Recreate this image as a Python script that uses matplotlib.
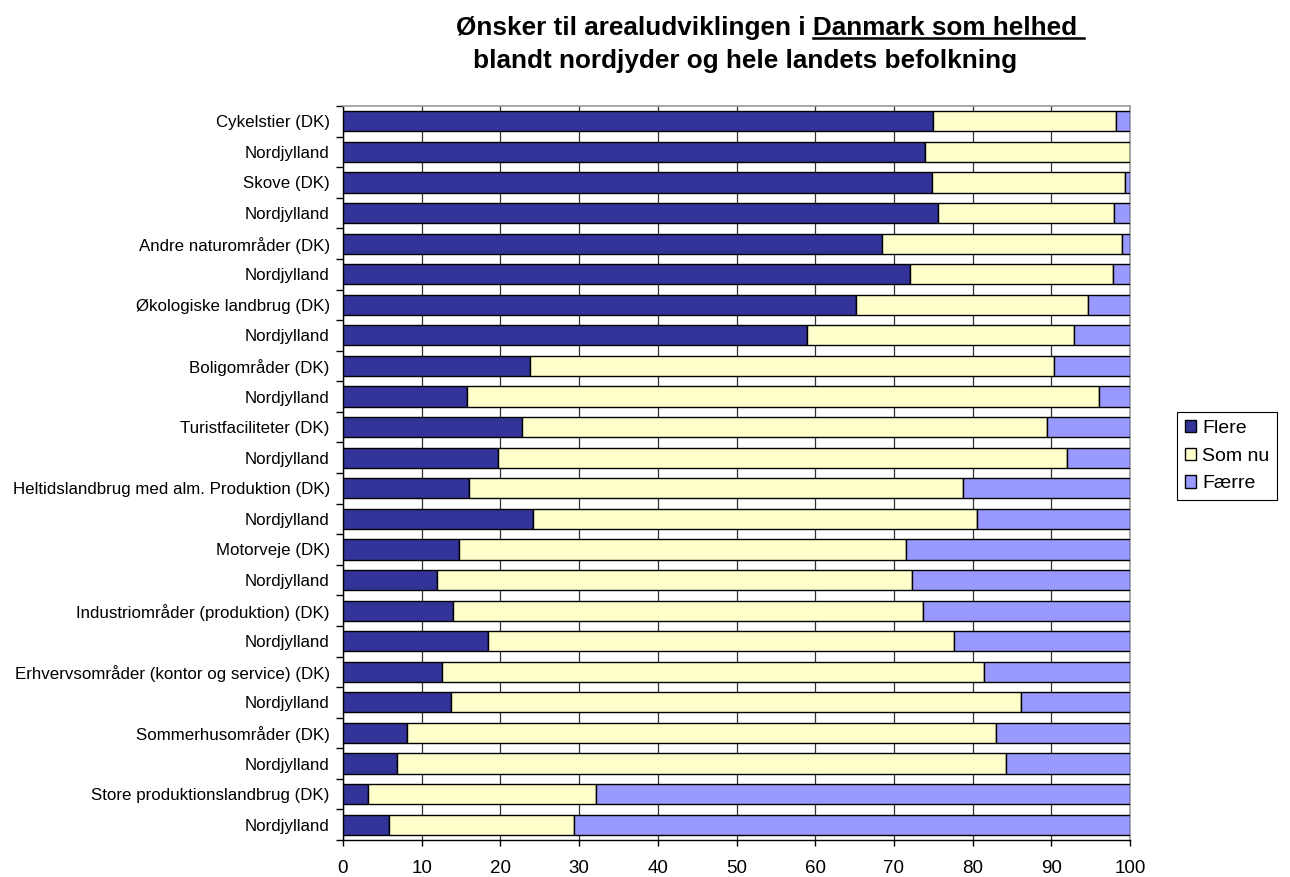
import numpy as np
import matplotlib
matplotlib.use("Agg")
import matplotlib.pyplot as plt
from matplotlib.lines import Line2D

plt.rcParams['font.family'] = ['Liberation Sans', 'DejaVu Sans']

# categories from top to bottom
labels = [
    "Cykelstier (DK)", "Nordjylland",
    "Skove (DK)", "Nordjylland",
    "Andre naturområder (DK)", "Nordjylland",
    "Økologiske landbrug (DK)", "Nordjylland",
    "Boligområder (DK)", "Nordjylland",
    "Turistfaciliteter (DK)", "Nordjylland",
    "Heltidslandbrug med alm. Produktion (DK)", "Nordjylland",
    "Motorveje (DK)", "Nordjylland",
    "Industriområder (produktion) (DK)", "Nordjylland",
    "Erhvervsområder (kontor og service) (DK)", "Nordjylland",
    "Sommerhusområder (DK)", "Nordjylland",
    "Store produktionslandbrug (DK)", "Nordjylland",
]

flere = [75.0, 73.9, 74.8, 75.6, 68.5, 72.0, 65.2, 59.0, 23.8, 15.8, 22.8, 19.7,
         16.0, 24.2, 14.7, 11.9, 14.0, 18.4, 12.6, 13.7, 8.1, 6.8, 3.2, 5.8]
som_nu = [23.2, 26.1, 24.6, 22.4, 30.5, 25.9, 29.4, 33.9, 66.5, 80.2, 66.7, 72.3,
          62.8, 56.3, 56.8, 60.4, 59.7, 59.2, 68.9, 72.5, 74.9, 77.4, 28.9, 23.6]
faerre = [1.8, 0.0, 0.6, 2.0, 1.0, 2.1, 5.4, 7.1, 9.7, 4.0, 10.5, 8.0,
          21.2, 19.5, 28.5, 27.7, 26.3, 22.4, 18.5, 13.8, 17.0, 15.8, 67.9, 70.6]

series = [("Flere", flere, "#333399"),
          ("Som nu", som_nu, "#FFFFCC"),
          ("Færre", faerre, "#9999FF")]

W, H = 1290, 877
fig = plt.figure(figsize=(W / 100, H / 100), dpi=100)
ax = fig.add_axes([343 / W, 1 - 840 / H, (1130 - 343) / W, (840 - 106) / H])

n = len(labels)
y = np.arange(n)
left = np.zeros(n)
for name, vals, col in series:
    vals = np.array(vals)
    ax.barh(y, vals, left=left, height=0.66, color=col, edgecolor="black",
            linewidth=1.0, label=name, zorder=3)
    left += vals

ax.set_xlim(0, 100)
ax.set_ylim(n - 0.5, -0.5)
ax.set_xticks(np.arange(0, 101, 10))
ax.set_yticks(y)
ax.set_yticklabels(labels)
ax.set_yticks(np.arange(-0.5, n, 1), minor=True)
ax.tick_params(axis="y", which="major", length=0, pad=9.5, labelsize=12.2)
ax.tick_params(axis="y", which="minor", length=5, width=1, color="black")
ax.tick_params(axis="x", length=4.5, width=1, labelsize=13.5, pad=10)
ax.xaxis.grid(True, color="#333333", linewidth=0.9, zorder=0)
ax.set_axisbelow(True)

for s in ["top", "right"]:
    ax.spines[s].set_color("#999999")
    ax.spines[s].set_linewidth(1.2)
for s in ["left", "bottom"]:
    ax.spines[s].set_color("black")
    ax.spines[s].set_linewidth(1.0)

leg = ax.legend(loc="upper left", bbox_to_anchor=(1177 / W, 1 - 412 / H),
                bbox_transform=fig.transFigure, borderaxespad=0, fontsize=14,
                frameon=True, fancybox=False, edgecolor="black", framealpha=1,
                handlelength=0.6, handleheight=0.6, handletextpad=0.3,
                labelspacing=0.55, borderpad=0.4)
leg.get_frame().set_linewidth(0.8)

# title, with underline on part of the first line
line1_pre = "Ønsker til arealudviklingen i "
line1_ul = "Danmark som helhed "
title_fs = 18.8
title_kw = dict(fontsize=title_fs, fontweight="bold", ha="center", va="baseline")
t1 = fig.text(770 / W, 1 - 35 / H, line1_pre + line1_ul, **title_kw)
fig.text(745 / W, 1 - 68 / H, "blandt nordjyder og hele landets befolkning", **title_kw)

fig.canvas.draw()
renderer = fig.canvas.get_renderer()
bb = t1.get_window_extent(renderer)
tmp = fig.text(0, 0, line1_pre, fontsize=title_fs, fontweight="bold")
pre_w = tmp.get_window_extent(renderer).width
tmp.remove()
x0 = (bb.x0 + pre_w) / fig.bbox.width
x1 = bb.x1 / fig.bbox.width
yu = 1 - 38 / H
fig.add_artist(Line2D([x0, x1], [yu, yu], transform=fig.transFigure,
                      color="black", linewidth=1.8))

fig.savefig("out.png", dpi=100)
